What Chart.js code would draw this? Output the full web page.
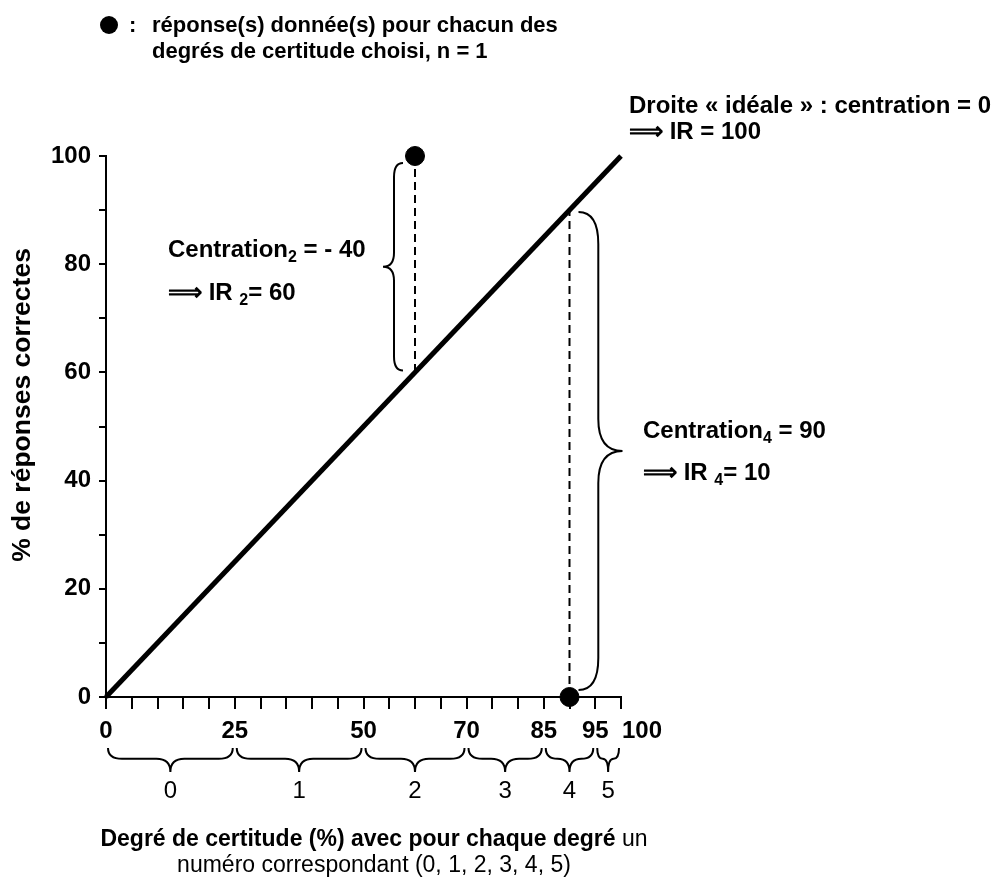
<!DOCTYPE html>
<html>
<head>
<meta charset="utf-8">
<script src="https://cdn.jsdelivr.net/npm/chart.js@4.4.0/dist/chart.umd.min.js"></script>
<style>
  body { margin: 0; background: #fff; }
  canvas { display: block; }
</style>
</head>
<body>
<canvas id="chart" width="996" height="881"></canvas>
<script>
// ideal line : % correct answers = degree of certainty
const idealX = [0, 100];
const idealY = [0, 100];
// answers given for each chosen degree (n = 1)
const responseX = [60, 90];
const responseY = [100, 0];
// certainty degree bounds (%) and the number of each degree
const degreeBounds = [0, 25, 50, 70, 85, 95, 100];
const degreeNumbers = ['0', '1', '2', '3', '4', '5'];
// labelled ticks
const xTickLabels = [0, 25, 50, 70, 85, 95, 100];
const yTickLabels = [0, 20, 40, 60, 80, 100];

const FONT = '"Liberation Sans", Arial, sans-serif';

const idealPts = idealX.map((x, i) => ({ x, y: idealY[i] }));
const responsePts = responseX.map((x, i) => ({ x, y: responseY[i] }));
// dashed drop from each answer to the ideal line (ideal y = x)
const dashSets = responseX.map((x, i) => ({
    data: [{ x, y: responseY[i] }, { x, y: x }],
    showLine: true,
    borderColor: '#000',
    borderWidth: 2,
    borderDash: [8, 5],
    pointRadius: 0,
    clip: false
}));

const lastX = xTickLabels[xTickLabels.length - 1];

function font(size, bold) {
    return (bold ? 'bold ' : '') + size + 'px ' + FONT;
}

// text made of runs, for subscripts and mixed weights
function runs(ctx, x, y, parts) {
    ctx.textAlign = 'left';
    ctx.textBaseline = 'alphabetic';
    for (const p of parts) {
        ctx.font = font(p.size, p.bold !== false);
        ctx.fillText(p.t, x, y + (p.dy || 0));
        x += ctx.measureText(p.t).width;
    }
}

function runsWidth(ctx, parts) {
    let w = 0;
    for (const p of parts) {
        ctx.font = font(p.size, p.bold !== false);
        w += ctx.measureText(p.t).width;
    }
    return w;
}

// curly brace drawn along local x (length L), tip at depth h
function brace(ctx, L, h, r) {
    const s = h * 0.45;
    r = Math.min(r, L / 4);
    ctx.beginPath();
    ctx.moveTo(0, 0);
    ctx.quadraticCurveTo(0, s, r, s);
    ctx.lineTo(L / 2 - r, s);
    ctx.quadraticCurveTo(L / 2, s, L / 2, h);
    ctx.quadraticCurveTo(L / 2, s, L / 2 + r, s);
    ctx.lineTo(L - r, s);
    ctx.quadraticCurveTo(L, s, L, 0);
    ctx.stroke();
}

const annotations = {
    id: 'annotations',
    afterDraw(chart) {
        const ctx = chart.ctx;
        const xs = chart.scales.x, ys = chart.scales.y;
        ctx.save();
        ctx.fillStyle = '#000';
        ctx.strokeStyle = '#000';
        ctx.lineWidth = 2;

        // last x label sits to the right of its tick
        ctx.font = font(24, true);
        ctx.textAlign = 'left';
        ctx.textBaseline = 'alphabetic';
        ctx.fillText(String(lastX), xs.getPixelForValue(lastX) + 1, 738);

        // braces under the x axis, one per degree
        ctx.textAlign = 'center';
        ctx.font = font(24, false);
        for (let i = 0; i < degreeNumbers.length; i++) {
            const a = xs.getPixelForValue(degreeBounds[i]) + 2;
            const b = xs.getPixelForValue(degreeBounds[i + 1]) - 2;
            ctx.save();
            ctx.translate(a, 748);
            brace(ctx, b - a, 24, 14);
            ctx.restore();
            ctx.fillText(degreeNumbers[i], (a + b) / 2, 798);
        }

        // brace between answer 2 and ideal line (left side)
        {
            const px = xs.getPixelForValue(responseX[0]) - 12;
            const top = ys.getPixelForValue(responseY[0]) + 7;
            const bot = ys.getPixelForValue(responseX[0]) - 2;
            ctx.save();
            ctx.translate(px, top);
            ctx.rotate(Math.PI / 2);
            brace(ctx, bot - top, 20, 14);
            ctx.restore();
        }
        // brace between answer 4 and ideal line (right side)
        {
            const px = xs.getPixelForValue(responseX[1]) + 9;
            const top = ys.getPixelForValue(responseX[1]) + 2;
            const bot = ys.getPixelForValue(responseY[1]) - 7;
            ctx.save();
            ctx.translate(px, bot);
            ctx.rotate(-Math.PI / 2);
            brace(ctx, bot - top, 44, 32);
            ctx.restore();
        }

        // legend
        ctx.beginPath();
        ctx.arc(109, 25, 9, 0, Math.PI * 2);
        ctx.fill();
        runs(ctx, 129, 32, [{ t: ':', size: 22 }]);
        runs(ctx, 152, 32, [{ t: 'réponse(s) donnée(s) pour chacun des', size: 22 }]);
        runs(ctx, 152, 58, [{ t: 'degrés de certitude choisi, n = 1', size: 22 }]);

        // ideal line note
        runs(ctx, 629, 113, [{ t: 'Droite « idéale » : centration = 0', size: 24 }]);
        runs(ctx, 629, 139, [{ t: '⟹ ', size: 24 }, { t: 'IR = 100', size: 24 }]);

        // centration notes
        runs(ctx, 168, 257, [{ t: 'Centration', size: 24 }, { t: '2', size: 16, dy: 5 }, { t: ' = - 40', size: 24 }]);
        runs(ctx, 168, 300, [{ t: '⟹ ', size: 24 }, { t: 'IR ', size: 24 }, { t: '2', size: 16, dy: 5 }, { t: '= 60', size: 24 }]);
        runs(ctx, 643, 438, [{ t: 'Centration', size: 24 }, { t: '4', size: 16, dy: 5 }, { t: ' = 90', size: 24 }]);
        runs(ctx, 643, 480, [{ t: '⟹ ', size: 24 }, { t: 'IR ', size: 24 }, { t: '4', size: 16, dy: 5 }, { t: '= 10', size: 24 }]);

        // y axis title
        ctx.save();
        ctx.translate(23, 405);
        ctx.rotate(-Math.PI / 2);
        ctx.textAlign = 'center';
        ctx.textBaseline = 'middle';
        ctx.font = font(26.5, true);
        ctx.fillText('% de réponses correctes', 0, 0);
        ctx.restore();

        // x axis title
        const l1 = [{ t: 'Degré de certitude (%) avec pour chaque degré', size: 23 }, { t: ' un', size: 23, bold: false }];
        runs(ctx, 374 - runsWidth(ctx, l1) / 2, 846, l1);
        const l2 = [{ t: 'numéro correspondant (0, 1, 2, 3, 4, 5)', size: 23, bold: false }];
        runs(ctx, 374 - runsWidth(ctx, l2) / 2, 872, l2);

        ctx.restore();
    }
};

new Chart(document.getElementById('chart'), {
    type: 'scatter',
    data: {
        datasets: [
            {
                data: responsePts,
                pointRadius: 9.5,
                pointBackgroundColor: '#000',
                pointBorderColor: '#000',
                showLine: false,
                clip: false
            },
            ...dashSets,
            {
                data: idealPts,
                showLine: true,
                borderColor: '#000',
                borderWidth: 5,
                pointRadius: 0,
                clip: false
            }
        ]
    },
    options: {
        responsive: false,
        animation: false,
        devicePixelRatio: 1,
        layout: { padding: { left: 46, right: 375, top: 156, bottom: 134 } },
        plugins: { legend: { display: false }, tooltip: { enabled: false } },
        scales: {
            x: {
                type: 'linear',
                min: 0,
                max: 100,
                afterFit: s => { s.height = 50; },
                ticks: {
                    stepSize: 5,
                    autoSkip: false,
                    maxRotation: 0,
                    padding: 8,
                    color: '#000',
                    font: { family: FONT, size: 24, weight: 'bold' },
                    // the last label is drawn by the plugin, offset to the right
                    callback: v => (xTickLabels.includes(v) && v !== lastX) ? String(v) : ''
                },
                grid: { drawOnChartArea: false, tickLength: 12, color: '#000', lineWidth: 2 },
                border: { color: '#000', width: 2 }
            },
            y: {
                type: 'linear',
                min: 0,
                max: 100,
                afterFit: s => { s.width = 60; },
                ticks: {
                    stepSize: 10,
                    autoSkip: false,
                    padding: 8,
                    color: '#000',
                    font: { family: FONT, size: 24, weight: 'bold' },
                    callback: v => yTickLabels.includes(v) ? String(v) : ''
                },
                grid: { drawOnChartArea: false, tickLength: 7, color: '#000', lineWidth: 2 },
                border: { color: '#000', width: 2 }
            }
        }
    },
    plugins: [annotations]
});
</script>
</body>
</html>
